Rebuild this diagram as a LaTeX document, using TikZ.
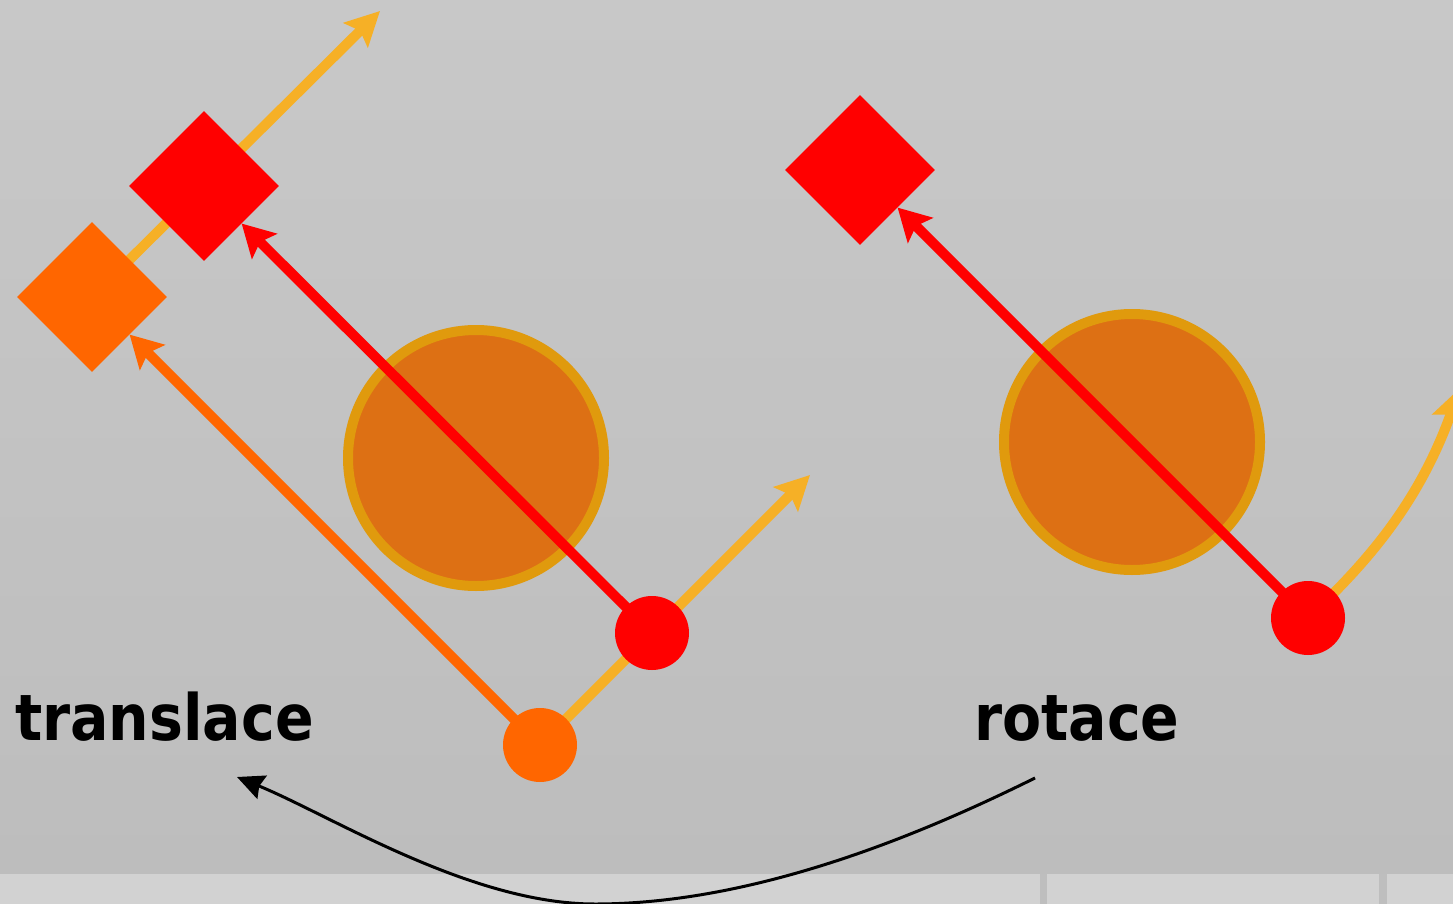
\documentclass[tikz,border=0pt]{standalone}
\usepackage{fontspec}
\newfontfamily\labfont{DejaVu Sans}
\usetikzlibrary{shapes.geometric,arrows.meta}
\definecolor{bgtop}{RGB}{200,200,200}
\definecolor{bgmid}{RGB}{207,207,207}
\definecolor{bgbot}{RGB}{189,189,189}
\definecolor{stripc}{RGB}{210,210,210}
\definecolor{sepc}{RGB}{190,190,190}
\definecolor{yelc}{RGB}{246,176,38}
\definecolor{orc}{RGB}{255,102,0}
\definecolor{redc}{RGB}{255,0,0}
\definecolor{bigfill}{RGB}{221,112,20}
\definecolor{bigline}{RGB}{224,154,13}
\pgfdeclarelayer{bg}
\pgfdeclarelayer{back}
\pgfdeclarelayer{mid}
\pgfdeclarelayer{fore}
\pgfsetlayers{bg,back,main,mid,fore}
\begin{document}
\begin{tikzpicture}[x=1pt,y=-1pt,
  dia/.style={shape=diamond,draw=none,inner sep=0,minimum width=150,minimum height=150},
  dot/.style={shape=circle,draw=none,inner sep=0,minimum size=74},
  bigc/.style={shape=circle,fill=bigfill,draw=bigline,line width=10,inner sep=0,minimum size=256},
  yel/.style={draw=yelc,line width=10,-{Stealth[length=34,width=34,inset=6]}},
  ora/.style={draw=orc,line width=10,-{Stealth[length=32,width=35,inset=6]}},
  rdl/.style={draw=redc,line width=10,-{Stealth[length=32,width=35,inset=6]}},
  blk/.style={draw=black,line width=3,-{Stealth[length=27,width=25,inset=3]}},
  lab/.style={inner sep=0,anchor=base west,font=\labfont\bfseries\fontsize{64}{64}\selectfont}]
\useasboundingbox (0,0) rectangle (1453,904);
\clip (0,0) rectangle (1453,904);
\begin{pgfonlayer}{bg}
\shade[top color=bgtop,middle color=bgmid,bottom color=bgbot] (0,0) rectangle (1453,874);
\fill[stripc] (0,874) rectangle (1453,904);
\fill[sepc] (1040,874) rectangle (1047,904);
\fill[sepc] (1379,874) rectangle (1387,904);
\end{pgfonlayer}
% left scene
\node[dia,fill=orc] (od) at (92,297) {};
\node[dia,fill=redc] (rd) at (204,186) {};
\node[bigc] (bc) at (476,458) {};
% right scene
\node[dia,fill=redc] (rd2) at (860,170) {};
\node[bigc] (bc2) at (1132,442) {};
\begin{pgfonlayer}{fore}
\node[dot,fill=orc] (oc) at (540,745) {};
\node[dot,fill=redc] (rc) at (652,633) {};
\node[dot,fill=redc] (rc2) at (1308,618) {};
\end{pgfonlayer}
\coordinate (y1) at (380,11);
\coordinate (y2) at (810,475);
\coordinate (y3) at (1460,388);
\coordinate (bs) at (1035,778);
\coordinate (bm) at (595,904);
\coordinate (be) at (237,777);
\begin{pgfonlayer}{back}
\draw[yel] (od.center) -- (y1);
\draw[yel] (oc.center) -- (y2);
\draw[yel] (rc2.center) .. controls (1370,560) and (1420,500) .. (y3);
\end{pgfonlayer}
\draw[ora] (oc.center) -- (od);
\begin{pgfonlayer}{mid}
\draw[rdl] (rc.center) -- (rd);
\draw[rdl] (rc2.center) -- (rd2);
\end{pgfonlayer}
\node[lab] (tr) at (15,740) {\scalebox{0.89}[1]{translace}};
\node[lab] (ro) at (974,740) {\scalebox{0.89}[1]{rotace}};
\draw[blk] (bs) .. controls (930,830) and (760,904) .. (bm) .. controls (470,904) and (330,815) .. (be);
\end{tikzpicture}
\end{document}
